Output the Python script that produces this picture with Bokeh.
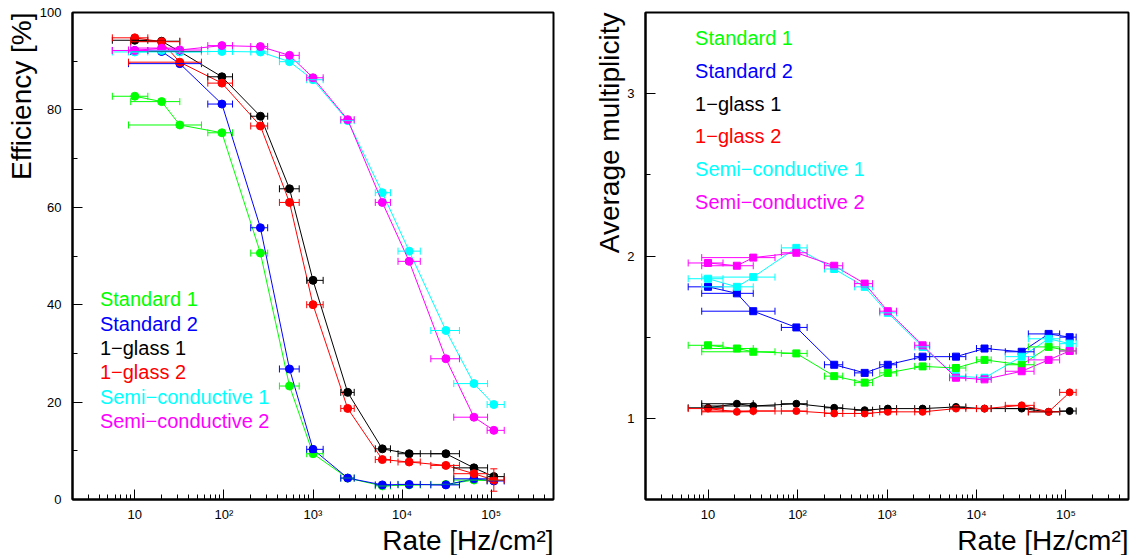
from bokeh.plotting import figure
from bokeh.models import (Range1d, FixedTicker, Whisker, ColumnDataSource, Label,
                          Title, TeeHead, CustomJSTickFormatter)
from bokeh.layouts import row
from bokeh.embed import file_html
from bokeh.resources import INLINE

FONT = "Liberation Sans"

series_names = ["Standard 1", "Standard 2", "1\u2212glass 1", "1\u2212glass 2",
                "Semi\u2212conductive 1", "Semi\u2212conductive 2"]
colors = ["#00ff00", "#0000ff", "#000000", "#ff0000", "#00ffff", "#ff00ff"]

# ---- left panel: efficiency [%] vs rate [Hz/cm2]
rate = [10, 20, 32, 95, 257, 545, 1000, 2450, 6000, 12000, 31000, 64000, 107000]
rate_lo = [5.6, 9, 8.5, 66, 200, 420, 850, 2050, 5000, 9000, 21000, 38000, 90000]
rate_hi = [14, 32, 56, 125, 310, 700, 1300, 2900, 7400, 16000, 44000, 91000, 140000]
eff_std1 = [82.8, 81.7, 76.9, 75.3, 50.6, 23.3, 9.4, 4.4, 2.8, 3.0, 3.1, 4.0, 3.9]
eff_std2 = [92.2, 92.0, 89.5, 81.2, 55.8, 26.8, 10.3, 4.4, 3.0, 3.1, 3.0, 4.25, 3.8]
eff_glass1 = [94.3, 94.1, 92.0, 86.8, 78.7, 63.8, 45.0, 22.0, 10.4, 9.4, 9.4, 6.5, 4.7]
eff_glass2 = [94.8, 94.0, 89.8, 85.5, 76.7, 61.0, 40.0, 18.7, 8.2, 7.7, 7.0, 5.3, 4.0]
eff_glass2_err = [0, 0, 0, 0, 0, 0, 0, 0, 0, 0, 0, 0, 2.3]
eff_semi1 = [91.9, 92.2, 91.9, 92.0, 91.9, 89.9, 86.2, 77.8, 63.0, 51.0, 34.7, 23.8, 19.5]
eff_semi2 = [92.2, 92.7, 92.3, 93.2, 93.0, 91.2, 86.6, 78.0, 61.0, 48.9, 28.9, 16.9, 14.2]

# ---- right panel: average multiplicity vs rate
rate_r = [10, 21, 32, 97, 257, 563, 1020, 2500, 5900, 12300, 32000, 64000, 110000]
rate_r_lo = [6, 8.5, 8.5, 66, 200, 435, 830, 2040, 5000, 10000, 21000, 38000, 85000]
rate_r_hi = [14.7, 32, 56, 128, 320, 690, 1280, 3000, 7600, 14600, 44000, 85000, 130000]
mult_std1 = [1.45, 1.43, 1.41, 1.40, 1.26, 1.22, 1.28, 1.32, 1.31, 1.36, 1.33, 1.44, 1.415]
mult_std2 = [1.81, 1.77, 1.66, 1.56, 1.33, 1.28, 1.33, 1.38, 1.38, 1.43, 1.41, 1.52, 1.50]
mult_glass1 = [1.065, 1.09, 1.076, 1.09, 1.065, 1.05, 1.06, 1.06, 1.07, 1.06, 1.06, 1.04, 1.045]
mult_glass2 = [1.06, 1.04, 1.045, 1.045, 1.03, 1.03, 1.04, 1.04, 1.06, 1.06, 1.08, 1.04, 1.16]
mult_semi1 = [1.86, 1.81, 1.87, 2.05, 1.92, 1.81, 1.65, 1.44, 1.26, 1.25, 1.38, 1.49, 1.46]
mult_semi2 = [1.957, 1.94, 1.99, 2.02, 1.94, 1.83, 1.66, 1.45, 1.25, 1.24, 1.29, 1.36, 1.415]

x_major = [10, 100, 1000, 10000, 100000]
x_minor = [m * 10 ** k for k in range(0, 6) for m in range(2, 10)]

tick_fmt = CustomJSTickFormatter(code="""
const e = Math.round(Math.log10(tick));
const sup = {2: "\u00b2", 3: "\u00b3", 4: "\u2074", 5: "\u2075"};
return e == 1 ? "10" : "10" + sup[e];
""")


def axis_title(text, valign):
    return Title(text=text, align="right", vertical_align=valign, text_font=FONT,
                 text_font_size="28px", text_font_style="normal",
                 text_color="black", offset=0, standoff=0)


def make_fig(y_range, y_ticks, y_minor, y_title, frame_w, min_left, min_right):
    p = figure(x_axis_type="log", x_range=Range1d(2, 5e5), y_range=y_range,
               frame_width=frame_w, frame_height=487,
               min_border_left=min_left, min_border_right=min_right,
               min_border_top=12, min_border_bottom=56,
               output_backend="svg", toolbar_location=None)
    p.grid.visible = False
    p.outline_line_color = "black"
    p.outline_line_width = 2
    p.background_fill_color = "white"
    p.border_fill_color = "white"
    for ax in (p.xaxis[0], p.yaxis[0]):
        ax.axis_line_width = 2
        ax.axis_line_color = "black"
        ax.major_tick_in = 10
        ax.major_tick_out = 0
        ax.minor_tick_in = 5
        ax.minor_tick_out = 0
        ax.major_tick_line_width = 1
        ax.minor_tick_line_width = 1
        ax.major_tick_line_color = "black"
        ax.minor_tick_line_color = "black"
        ax.major_label_text_font = FONT
        ax.major_label_text_font_size = "13px"
        ax.major_label_text_color = "black"
    p.xaxis.ticker = FixedTicker(ticks=x_major, minor_ticks=x_minor)
    p.xaxis.formatter = tick_fmt
    p.xaxis.major_label_standoff = 7
    p.yaxis.ticker = FixedTicker(ticks=y_ticks, minor_ticks=y_minor)
    p.yaxis.major_label_standoff = 11
    p.add_layout(axis_title("Rate [Hz/cm\u00b2]", "top"), "below")
    p.add_layout(axis_title(y_title, "bottom"), "left")
    return p


def draw(p, x, xlo, xhi, y, color, marker, size, yerr=None):
    data = dict(x=x, y=y, xlo=xlo, xhi=xhi)
    if yerr is not None:
        data["ylo"] = [a - b for a, b in zip(y, yerr)]
        data["yhi"] = [a + b for a, b in zip(y, yerr)]
    src = ColumnDataSource(data)
    p.line("x", "y", source=src, line_color=color, line_width=1)
    p.add_layout(Whisker(source=src, base="y", lower="xlo", upper="xhi",
                         dimension="width", line_color=color, line_width=1,
                         level="glyph",
                         upper_head=TeeHead(size=7, line_color=color, line_width=1),
                         lower_head=TeeHead(size=7, line_color=color, line_width=1)))
    if yerr is not None:
        p.add_layout(Whisker(source=src, base="x", lower="ylo", upper="yhi",
                             dimension="height", line_color=color, line_width=1,
                             level="glyph",
                             upper_head=TeeHead(size=7, line_color=color, line_width=1),
                             lower_head=TeeHead(size=7, line_color=color, line_width=1)))
    p.scatter("x", "y", source=src, marker=marker, size=size,
              fill_color=color, line_color=color)


# ---------------- left
p1 = make_fig(Range1d(0, 100), [0, 20, 40, 60, 80, 100], [10, 30, 50, 70, 90],
              "Efficiency [%]", 481, 72, 15)
left_series = [eff_std1, eff_std2, eff_glass1, eff_glass2, eff_semi1, eff_semi2]
for i, (ys, c) in enumerate(zip(left_series, colors)):
    draw(p1, rate, rate_lo, rate_hi, ys, c, "circle", 8,
         yerr=eff_glass2_err if i == 3 else None)
for i, (name, c) in enumerate(zip(series_names, colors)):
    p1.add_layout(Label(x=4.06, y=41.1 - 5.0 * i, text=name, text_color=c,
                        text_font=FONT, text_font_size="20px",
                        text_baseline="middle"))

# ---------------- right
p2 = make_fig(Range1d(0.5, 3.5), [1, 2, 3], [0.5, 1.5, 2.5, 3.5],
              "Average multiplicity", 483, 77, 6)
right_series = [mult_std1, mult_std2, mult_glass1, mult_glass2, mult_semi1, mult_semi2]
right_markers = ["square", "square", "circle", "circle", "square", "square"]
for ys, c, m in zip(right_series, colors, right_markers):
    draw(p2, rate_r, rate_r_lo, rate_r_hi, ys, c, m, 7)
for i, (name, c) in enumerate(zip(series_names, colors)):
    p2.add_layout(Label(x=7.17, y=3.341 - 0.2013 * i, text=name, text_color=c,
                        text_font=FONT, text_font_size="20px",
                        text_baseline="middle"))

layout = row(p1, p2)
open("out.html", "w").write(file_html(layout, INLINE))
